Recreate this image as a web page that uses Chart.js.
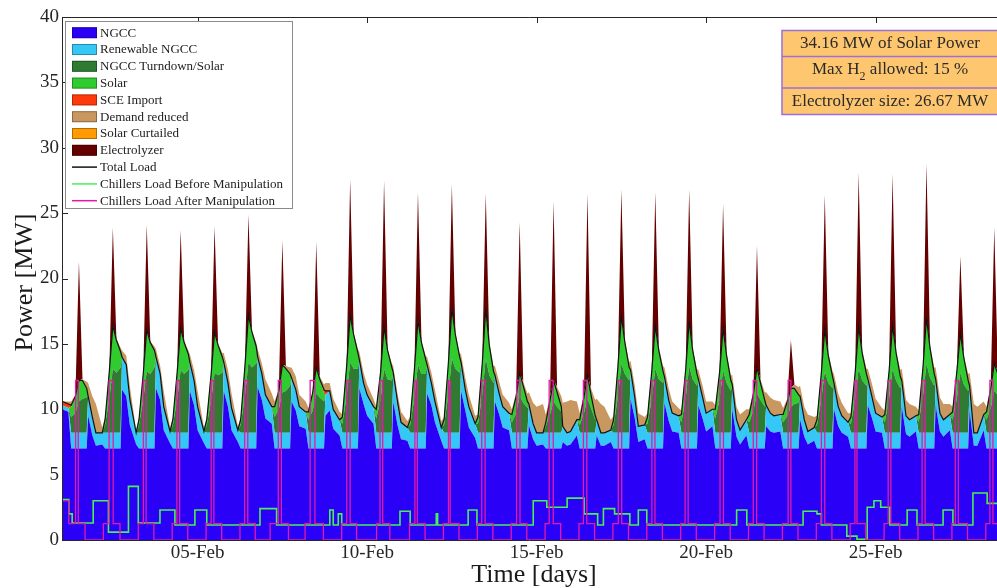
<!DOCTYPE html>
<html>
<head>
<meta charset="utf-8">
<style>
  html, body { margin: 0; padding: 0; background: #fff; overflow: hidden; }
  #wrap { width: 997px; height: 588px; }
</style>
<script src="https://cdn.jsdelivr.net/npm/chart.js@4.4.1/dist/chart.umd.min.js"></script>
</head>
<body>
<div id="wrap"><canvas id="powerChart" width="997" height="588"></canvas></div>
<script>
// ---- data ----
// days counted from 01-Feb 00:00, each day sampled at these hours
const sampleHours = [0, 4.5, 6.5, 9.5, 12, 14.5, 17.5, 18.5, 21.5];
const tickDays = [4, 9, 14, 19, 24];
const tickLabels = ["05-Feb", "10-Feb", "15-Feb", "20-Feb", "25-Feb"];

// MW per day at sampleHours
const ngcc = [
  [10.0, 9.8, 7, 7, 7, 7, 7, 9.5, 8.0],
  [7.2, 7.3, 7, 7, 7, 7, 7, 11.5, 11.0],
  [8.8, 7.3, 7, 7, 7, 7, 7, 11.6, 10.7],
  [8.4, 7.4, 7, 7, 7, 7, 7, 11.4, 10.3],
  [8.4, 7.4, 7, 7, 7, 7, 7, 11.4, 10.2],
  [8.4, 7.5, 7, 7, 7, 7, 7, 11.7, 10.7],
  [9.3, 8.9, 7, 7, 7, 7, 7, 10.6, 9.9],
  [8.7, 8.5, 7, 7, 7, 7, 7, 9.5, 9.9],
  [8.5, 8.0, 7, 7, 7, 7, 7, 11.6, 10.4],
  [9.5, 8.9, 7, 7, 7, 7, 7, 10.6, 8.8],
  [7.7, 7.6, 7, 7, 7, 7, 7, 11.2, 10.3],
  [9.0, 7.6, 7, 7, 7, 7, 7, 11.4, 9.9],
  [8.6, 7.8, 7, 7, 7, 7, 7, 10.6, 9.6],
  [8.6, 8.4, 7, 7, 7, 7, 7, 8.8, 7.7],
  [7.2, 7.3, 7, 7, 7, 7, 7, 7.5, 7.2],
  [7.3, 8.0, 7, 7, 7, 7, 7, 8.0, 7.2],
  [7.2, 7.5, 7, 7, 7, 7, 7, 10.8, 9.3],
  [7.5, 7.7, 7, 7, 7, 7, 7, 10.5, 9.1],
  [8.3, 8.2, 7, 7, 7, 7, 7, 10.3, 9.3],
  [8.3, 8.7, 7, 7, 7, 7, 7, 10.0, 7.9],
  [7.3, 8.0, 7, 7, 7, 7, 7, 8.7, 8.3],
  [8.2, 8.3, 7, 7, 7, 7, 7, 9.2, 7.9],
  [7.3, 7.6, 7, 7, 7, 7, 7, 10.0, 8.7],
  [8.2, 7.9, 7, 7, 7, 7, 7, 10.3, 9.3],
  [8.3, 8.2, 7, 7, 7, 7, 7, 10.2, 8.1],
  [7.9, 8.3, 7, 7, 7, 7, 7, 10.3, 8.3],
  [7.9, 8.4, 7, 7, 7, 7, 7, 9.9, 7.2],
  [7.2, 8.4, 7, 7, 7, 7, 7, 9.8, 8.1]
];
const renewableNgcc = [
  [0.3, 0.3, 1.2, 1.2, 1.2, 1.2, 1.2, 1.5, 1.4],
  [1.0, 0.9, 1.2, 1.2, 1.2, 1.2, 1.2, 2.5, 2.4],
  [2.0, 0.9, 1.2, 1.2, 1.2, 1.2, 1.2, 2.4, 2.0],
  [1.8, 0.9, 1.2, 1.2, 1.2, 1.2, 1.2, 2.2, 1.9],
  [1.8, 0.9, 1.2, 1.2, 1.2, 1.2, 1.2, 2.2, 1.8],
  [1.7, 0.9, 1.2, 1.2, 1.2, 1.2, 1.2, 2.3, 2.0],
  [1.8, 1.3, 1.2, 1.2, 1.2, 1.2, 1.2, 1.8, 1.6],
  [1.5, 1.3, 1.2, 1.2, 1.2, 1.2, 1.2, 1.6, 1.5],
  [1.5, 1.2, 1.2, 1.2, 1.2, 1.2, 1.2, 2.2, 1.6],
  [1.6, 1.3, 1.2, 1.2, 1.2, 1.2, 1.2, 2.0, 1.4],
  [1.3, 1.0, 1.2, 1.2, 1.2, 1.2, 1.2, 2.2, 1.7],
  [1.6, 1.0, 1.2, 1.2, 1.2, 1.2, 1.2, 2.2, 1.6],
  [1.6, 1.1, 1.2, 1.2, 1.2, 1.2, 1.2, 2.0, 1.6],
  [1.6, 1.3, 1.2, 1.2, 1.2, 1.2, 1.2, 1.6, 1.2],
  [1.0, 0.9, 1.2, 1.2, 1.2, 1.2, 1.2, 1.2, 1.0],
  [1.0, 1.2, 1.2, 1.2, 1.2, 1.2, 1.2, 1.2, 1.0],
  [1.0, 0.9, 1.2, 1.2, 1.2, 1.2, 1.2, 2.2, 1.6],
  [1.2, 1.1, 1.2, 1.2, 1.2, 1.2, 1.2, 2.0, 1.6],
  [1.4, 1.3, 1.2, 1.2, 1.2, 1.2, 1.2, 2.0, 1.6],
  [1.4, 1.3, 1.2, 1.2, 1.2, 1.2, 1.2, 1.9, 1.3],
  [1.1, 1.2, 1.2, 1.2, 1.2, 1.2, 1.2, 1.6, 1.4],
  [1.3, 1.3, 1.2, 1.2, 1.2, 1.2, 1.2, 1.8, 1.3],
  [1.0, 1.0, 1.2, 1.2, 1.2, 1.2, 1.2, 2.0, 1.5],
  [1.3, 1.1, 1.2, 1.2, 1.2, 1.2, 1.2, 2.0, 1.6],
  [1.4, 1.2, 1.2, 1.2, 1.2, 1.2, 1.2, 2.0, 1.4],
  [1.3, 1.2, 1.2, 1.2, 1.2, 1.2, 1.2, 2.0, 1.4],
  [1.3, 1.2, 1.2, 1.2, 1.2, 1.2, 1.2, 1.9, 1.0],
  [1.0, 1.2, 1.2, 1.2, 1.2, 1.2, 1.2, 1.8, 1.4]
];
// solar hours only: 06:30, 09:30, 12h, 14:30, 17:30
const turndownSolar = [
  [1.2, 1.5, 2.4, 2.6, 2.7], [0.6, 2.6, 4.9, 4.6, 5.0], [0.6, 2.5, 4.7, 4.5, 5.0],
  [0.6, 2.5, 4.8, 4.5, 4.8], [0.6, 2.4, 4.6, 4.4, 4.6], [0.6, 2.8, 5.4, 5.0, 5.3],
  [1.2, 1.8, 3.1, 3.2, 3.6], [1.0, 1.7, 3.0, 2.7, 2.4], [0.7, 2.8, 5.4, 4.9, 4.9],
  [1.1, 2.5, 4.9, 4.1, 4.0], [0.6, 2.7, 5.2, 4.5, 4.5], [0.6, 2.9, 5.7, 4.9, 4.6],
  [0.7, 2.9, 5.7, 4.4, 3.8], [0.8, 1.5, 2.8, 2.3, 1.9], [0.5, 1.4, 2.4, 2.0, 1.6],
  [0.6, 1.5, 2.6, 1.9, 1.0], [0.6, 2.7, 5.3, 4.5, 4.0], [0.7, 2.6, 4.9, 4.1, 3.8],
  [0.8, 2.6, 5.1, 4.1, 3.6], [1.1, 2.5, 4.8, 3.8, 3.2], [0.8, 1.7, 3.0, 2.5, 2.0],
  [0.8, 1.3, 2.0, 2.2, 2.3], [0.6, 2.5, 4.7, 3.8, 3.4], [0.7, 2.5, 4.9, 4.0, 3.6],
  [0.8, 2.6, 4.9, 4.0, 3.4], [0.8, 2.8, 5.3, 4.2, 3.6], [1.0, 2.6, 4.6, 3.7, 3.2],
  [1.0, 1.9, 3.2, 2.9, 3.0]
];
const solar = [
  [0.8, 1.3, 1.6, 1.4, 0.7], [0.4, 2.1, 3.3, 2.5, 1.2], [0.4, 2.0, 3.2, 2.4, 1.3],
  [0.4, 2.1, 3.2, 2.4, 1.2], [0.4, 2.0, 3.1, 2.3, 1.2], [0.4, 2.3, 3.6, 2.7, 1.3],
  [0.8, 1.4, 2.1, 1.7, 0.9], [0.6, 1.4, 2.0, 1.4, 0.6], [0.5, 2.3, 3.6, 2.6, 1.2],
  [0.7, 2.1, 3.2, 2.2, 1.0], [0.4, 2.2, 3.4, 2.4, 1.1], [0.4, 2.4, 3.8, 2.6, 1.2],
  [0.5, 2.4, 3.8, 2.3, 0.9], [0.6, 1.3, 1.8, 1.3, 0.5], [0.3, 1.1, 1.6, 1.1, 0.4],
  [0.4, 1.2, 1.8, 1.0, 0.3], [0.4, 2.3, 3.6, 2.4, 1.0], [0.5, 2.1, 3.3, 2.2, 0.9],
  [0.6, 2.2, 3.4, 2.2, 0.9], [0.7, 2.1, 3.2, 2.1, 0.8], [0.6, 1.3, 2.0, 1.3, 0.5],
  [0.6, 1.1, 1.4, 1.2, 0.6], [0.4, 2.0, 3.2, 2.1, 0.9], [0.5, 2.1, 3.2, 2.1, 0.9],
  [0.6, 2.1, 3.3, 2.1, 0.9], [0.6, 2.2, 3.5, 2.3, 0.9], [0.6, 2.1, 3.0, 2.0, 0.8],
  [0.6, 1.5, 2.1, 1.6, 0.8]
];
const sceImport = [
  [0.3, 0.3, 0.1, 0, 0, 0, 0, 0, 0], [0, 0, 0, 0, 0, 0, 0, 0, 0], [0, 0, 0, 0, 0, 0, 0, 0, 0],
  [0, 0, 0, 0, 0, 0, 0, 0, 0], [0, 0, 0, 0, 0, 0, 0, 0, 0], [0, 0, 0, 0, 0, 0, 0, 0, 0],
  [0, 0, 0, 0, 0, 0, 0, 0, 0], [0, 0, 0, 0, 0, 0, 0.3, 0.3, 0], [0, 0, 0, 0, 0, 0, 0, 0, 0],
  [0, 0, 0, 0, 0, 0, 0, 0.2, 0.4], [0, 0, 0, 0, 0, 0, 0, 0, 0], [0, 0, 0, 0, 0, 0, 0, 0, 0],
  [0, 0, 0, 0, 0, 0, 0, 0, 0], [0, 0, 0, 0, 0, 0, 0, 0, 0], [0, 0, 0, 0, 0, 0, 0, 0, 0],
  [0, 0, 0, 0, 0, 0, 0, 0, 0], [0, 0, 0, 0, 0, 0, 0, 0, 0], [0, 0, 0, 0, 0, 0, 0, 0, 0],
  [0, 0, 0, 0, 0, 0, 0, 0, 0], [0, 0, 0, 0, 0, 0, 0, 0, 0], [0, 0, 0, 0, 0, 0, 0, 0, 0],
  [0, 0, 0, 0, 0, 0, 0, 0, 0], [0, 0, 0, 0, 0, 0, 0, 0, 0], [0, 0, 0, 0, 0, 0, 0, 0, 0],
  [0, 0, 0, 0, 0, 0, 0, 0, 0], [0, 0, 0, 0, 0, 0, 0, 0, 0], [0, 0, 0, 0, 0, 0, 0, 0, 0],
  [0, 0, 0, 0, 0, 0, 0, 0, 0]
];
const demandReduced = [
  [0, 0.2, 0.3, 0.1, 0, 0.1, 0.5, 1.0, 1.6],
  [2.2, 0.4, 0.2, 0.1, 0, 0.1, 0.3, 0.5, 0.7],
  [1.0, 0.2, 0.2, 0.1, 0, 0.1, 0.3, 0.6, 0.6],
  [1.2, 0.3, 0.2, 0.1, 0, 0.1, 0.3, 0.6, 0.8],
  [1.2, 0.3, 0.2, 0.1, 0, 0.1, 0.3, 0.7, 1.0],
  [1.1, 0.3, 0.2, 0.1, 0, 0.1, 0.3, 0.6, 0.8],
  [1.2, 1.0, 0.4, 0.1, 0, 0.2, 0.5, 0.8, 1.0],
  [0.9, 0.8, 0.3, 0.1, 0, 0.2, 0.4, 0.6, 0.6],
  [0.8, 0.6, 0.2, 0.1, 0, 0.1, 0.3, 0.6, 0.8],
  [0.8, 0.6, 0.2, 0.1, 0, 0.1, 0.3, 0.5, 0.6],
  [0.8, 0.5, 0.2, 0.1, 0, 0.1, 0.3, 0.6, 0.8],
  [0.9, 0.5, 0.2, 0.1, 0, 0.1, 0.3, 0.6, 0.9],
  [0.9, 0.6, 0.2, 0.1, 0, 0.2, 0.4, 0.7, 0.9],
  [0.9, 0.8, 0.4, 0.2, 0, 0.3, 0.6, 0.9, 1.6],
  [2.0, 2.2, 0.6, 0.3, 0, 0.4, 0.8, 1.8, 2.4],
  [2.4, 1.4, 0.5, 0.3, 0, 0.5, 1.2, 1.6, 2.2],
  [2.0, 0.8, 0.3, 0.1, 0, 0.2, 0.4, 0.7, 0.9],
  [1.0, 0.6, 0.3, 0.1, 0, 0.2, 0.4, 0.7, 0.9],
  [0.9, 0.6, 0.3, 0.1, 0, 0.2, 0.4, 0.7, 0.9],
  [0.9, 0.6, 0.3, 0.1, 0, 0.2, 0.4, 0.7, 1.0],
  [1.2, 0.8, 0.4, 0.2, 0, 0.3, 0.6, 1.0, 1.2],
  [1.2, 1.0, 0.5, 0.2, 0, 0.3, 0.6, 0.8, 1.0],
  [1.3, 0.8, 0.3, 0.1, 0, 0.2, 0.4, 0.7, 1.0],
  [1.0, 0.7, 0.3, 0.1, 0, 0.2, 0.4, 0.8, 1.0],
  [1.1, 0.7, 0.3, 0.1, 0, 0.2, 0.5, 0.9, 1.2],
  [1.2, 0.7, 0.3, 0.1, 0, 0.2, 0.5, 0.9, 1.2],
  [1.2, 0.8, 0.4, 0.2, 0, 0.2, 0.5, 1.0, 2.2],
  [2.0, 1.0, 0.4, 0.2, 0, 0.2, 0.5, 1.0, 1.4]
];
// noon values only
const solarCurtailed = [0, 0, 0, 0, 0, 0, 0, 0, 0, 0, 0, 0, 0, 0, 0, 0, 0, 0, 0, 0, 0, 0, 0, 0, 0, 0, 0, 0];
const electrolyzer = [9.1, 7.5, 8.0, 7.5, 8.1, 7.7, 9.5, 9.6, 10.4, 11.2, 9.8, 9.5, 8.8, 11.5,
  13.7, 13.9, 9.7, 10.2, 10.1, 9.5, 9.3, 3.7, 10.3, 11.8, 11.6, 11.8, 5.9, 10.4];

// chiller loads, [day, MW] step points
const chillersBefore = [
  [0, 3.1], [0.2, 2.0], [0.3, 1.3], [0.92, 3.0], [1.37, 0.6], [1.96, 4.1], [2.25, 1.3],
  [2.89, 2.3], [3.33, 1.15], [3.92, 2.3], [4.27, 1.15], [5.84, 2.4], [6.33, 1.15],
  [7.9, 2.3], [8.0, 1.15], [8.15, 2.0], [8.25, 1.15], [9.97, 2.2], [10.27, 1.15],
  [11.04, 2.0], [11.08, 1.15], [11.98, 2.3], [12.24, 1.15], [13.9, 3.0], [14.3, 2.5],
  [14.9, 3.2], [15.4, 2.0], [15.8, 1.15], [15.97, 2.4], [16.3, 2.0], [16.75, 1.15],
  [17.0, 2.3], [17.25, 1.15], [19.9, 2.3], [20.2, 1.15], [21.86, 2.2], [22.27, 2.0],
  [22.4, 1.15], [23.15, 0.3], [23.45, 0.05], [23.75, 2.5], [23.95, 3.0], [24.15, 2.5],
  [24.42, 1.15], [24.93, 2.3], [25.22, 1.15], [25.99, 2.3], [26.28, 1.15], [26.87, 3.6],
  [27.29, 2.8], [27.6, 2.8]
];
const chillersAfter = [
  [0, 3.0], [0.2, 1.25], [0.40, 12.2], [0.48, 1.25], [0.68, 0],
  [1.22, 1.25], [1.39, 12.2], [1.51, 1.25], [1.71, 0],
  [2.25, 1.25], [2.40, 12.2], [2.48, 1.25], [2.71, 0],
  [3.25, 1.25], [3.39, 12.2], [3.47, 1.25], [3.71, 0],
  [4.25, 1.25], [4.40, 12.2], [4.48, 1.25], [4.71, 0],
  [5.25, 1.25], [5.39, 12.2], [5.48, 1.25], [5.70, 0],
  [6.14, 1.25], [6.38, 12.2], [6.47, 1.25], [6.68, 0],
  [7.17, 1.25], [7.32, 12.2], [7.46, 1.25], [7.71, 0],
  [8.25, 1.25], [8.40, 12.2], [8.50, 1.25], [8.69, 0],
  [9.28, 1.25], [9.38, 12.2], [9.46, 1.25], [9.67, 0],
  [10.25, 1.25], [10.41, 12.2], [10.48, 1.25], [10.71, 0],
  [11.25, 1.25], [11.40, 12.2], [11.45, 1.25], [11.71, 0],
  [12.25, 1.25], [12.38, 12.2], [12.48, 1.25], [12.71, 0],
  [13.25, 1.25], [13.41, 12.2], [13.51, 1.25], [13.71, 0],
  [14.25, 1.25], [14.37, 12.2], [14.49, 1.25], [14.71, 0],
  [15.25, 1.25], [15.38, 12.2], [15.48, 1.25], [15.71, 0],
  [16.25, 1.25], [16.41, 12.2], [16.51, 1.25], [16.71, 0],
  [17.25, 1.25], [17.40, 12.2], [17.49, 1.25], [17.71, 0],
  [18.25, 1.25], [18.38, 12.2], [18.47, 1.25], [18.71, 0],
  [19.25, 1.25], [19.41, 12.2], [19.51, 1.25], [19.71, 0],
  [20.25, 1.25], [20.39, 12.2], [20.49, 1.25], [20.71, 0],
  [21.25, 1.25], [21.42, 12.2], [21.50, 1.25], [21.71, 0],
  [22.25, 1.25], [22.40, 12.2], [22.50, 1.25], [22.71, 0],
  [23.25, 1.25], [23.39, 12.2], [23.45, 1.25], [23.71, 0],
  [24.25, 1.25], [24.37, 12.2], [24.45, 1.25], [24.71, 0],
  [25.25, 1.25], [25.37, 12.2], [25.46, 1.25], [25.71, 0],
  [26.25, 1.25], [26.35, 12.2], [26.44, 1.25], [26.71, 0],
  [27.25, 1.25], [27.37, 12.2], [27.46, 1.25], [27.71, 0]
];

const infoLines = ["34.16 MW of Solar Power", "Max H|2| allowed: 15 %", "Electrolyzer size: 26.67 MW"];

// ---- build series on the common time grid ----
const xs = [];
ngcc.forEach((row, d) => sampleHours.forEach(h => xs.push(d + h / 24)));

const SOLAR_SLOTS = [2, 3, 4, 5, 6]; // 06:30 .. 17:30
const NOON_SLOT = 4;
function flatSolar(rows){
  const out = [];
  rows.forEach(r => sampleHours.forEach((h, k) => {
    const j = SOLAR_SLOTS.indexOf(k);
    out.push(j >= 0 ? r[j] : 0);
  }));
  return out;
}
function flatNoon(vals){
  const out = [];
  vals.forEach(v => sampleHours.forEach((h, k) => out.push(k === NOON_SLOT ? v : 0)));
  return out;
}
function pts(vals){ return vals.map((v, i) => ({ x: xs[i], y: v })); }

const sNgcc = ngcc.flat();
const sRen = renewableNgcc.flat();
const sTurn = flatSolar(turndownSolar);
const sSolar = flatSolar(solar);
const sSce = sceImport.flat();
const sDemand = demandReduced.flat();
const sCurt = flatNoon(solarCurtailed);
const sElec = flatNoon(electrolyzer);
const sTotal = sNgcc.map((v, i) => v + sRen[i] + sTurn[i] + sSolar[i] + sSce[i]);

const areas = [
  ["NGCC", sNgcc, "#2B00F7"],
  ["Renewable NGCC", sRen, "#35C8F7"],
  ["NGCC Turndown/Solar", sTurn, "#2E7B31"],
  ["Solar", sSolar, "#2FCB2F"],
  ["SCE Import", sSce, "#FF3A0A"],
  ["Demand reduced", sDemand, "#C99760"],
  ["Solar Curtailed", sCurt, "#FF9A00"],
  ["Electrolyzer", sElec, "#650000"]
];

const datasets = areas.map((a, i) => ({
  label: a[0],
  data: pts(a[1]),
  backgroundColor: a[2],
  borderColor: a[2],
  borderWidth: 0,
  pointRadius: 0,
  fill: i === 0 ? "origin" : "-1",
  order: 3
}));
datasets.push({
  label: "Total Load", data: pts(sTotal), stack: "total",
  borderColor: "#111", borderWidth: 1.2, pointRadius: 0, fill: false, order: 2
});
datasets.push({
  label: "Chillers Load Before Manipulation", stack: "before", stepped: true,
  data: chillersBefore.map(p => ({ x: p[0], y: p[1] })),
  borderColor: "#48F058", borderWidth: 1.6, pointRadius: 0, fill: false, order: 1
});
datasets.push({
  label: "Chillers Load After Manipulation", stack: "after", stepped: true,
  data: chillersAfter.map(p => ({ x: p[0], y: p[1] })),
  borderColor: "#E21AA8", borderWidth: 1.3, pointRadius: 0, fill: false, order: 0
});

// ---- extra drawing: inward ticks, frame, legend, info box, axis titles ----
const AXIS = "#262626";
const SERIF = "'Liberation Serif', 'Times New Roman', serif";

const decor = {
  id: "decor",
  beforeDatasetsDraw(chart){
    const { ctx, chartArea: a, scales: { x, y } } = chart;
    ctx.save();
    ctx.strokeStyle = AXIS; ctx.lineWidth = 1;
    for (let v = 0; v <= 40; v += 5) {
      const py = Math.round(y.getPixelForValue(v)) + 0.5;
      ctx.beginPath(); ctx.moveTo(a.left, py); ctx.lineTo(a.left + 6, py); ctx.stroke();
    }
    tickDays.forEach(d => {
      const px = Math.round(x.getPixelForValue(d)) + 0.5;
      ctx.beginPath(); ctx.moveTo(px, a.top); ctx.lineTo(px, a.top + 6); ctx.stroke();
      ctx.beginPath(); ctx.moveTo(px, a.bottom); ctx.lineTo(px, a.bottom - 6); ctx.stroke();
    });
    ctx.restore();
  },
  afterDatasetsDraw(chart){
    const { ctx, chartArea: a } = chart;
    ctx.save();
    ctx.strokeStyle = AXIS; ctx.lineWidth = 1;
    ctx.beginPath();
    ctx.moveTo(a.left + 0.5, a.bottom); ctx.lineTo(a.left + 0.5, a.top + 0.5); ctx.lineTo(a.right, a.top + 0.5);
    ctx.moveTo(a.left, a.bottom + 0.5); ctx.lineTo(a.right, a.bottom + 0.5);
    ctx.stroke();
    ctx.restore();
  },
  afterDraw(chart){
    const { ctx, chartArea: a } = chart;
    ctx.save();

    // axis titles
    ctx.fillStyle = "#1a1a1a";
    ctx.font = "26px " + SERIF;
    ctx.textAlign = "center"; ctx.textBaseline = "middle";
    ctx.fillText("Time [days]", 534, 575);
    ctx.save();
    ctx.translate(25, (a.top + a.bottom) / 2 + 4);
    ctx.rotate(-Math.PI / 2);
    ctx.fillText("Power [MW]", 0, 0);
    ctx.restore();

    // legend box
    const lx = 65, ly = 21, lw = 227, lh = 187;
    ctx.fillStyle = "#fff"; ctx.fillRect(lx, ly, lw, lh);
    ctx.strokeStyle = "#8a8a8a"; ctx.lineWidth = 1;
    ctx.strokeRect(lx + 0.5, ly + 0.5, lw, lh);
    ctx.font = "13px " + SERIF;
    ctx.textAlign = "left"; ctx.textBaseline = "middle";
    chart.data.datasets.forEach((ds, i) => {
      const cy = 32.7 + i * 16.8;
      if (ds.fill === false) {
        ctx.strokeStyle = ds.borderColor; ctx.lineWidth = 1.5;
        ctx.beginPath(); ctx.moveTo(72, cy); ctx.lineTo(97, cy); ctx.stroke();
      } else {
        ctx.fillStyle = ds.backgroundColor; ctx.fillRect(72, cy - 5.5, 25, 11);
        ctx.strokeStyle = "rgba(0,0,0,0.3)"; ctx.lineWidth = 1;
        ctx.strokeRect(72.5, cy - 5, 24, 10);
      }
      ctx.fillStyle = "#222";
      ctx.fillText(ds.label, 100, cy + 0.5);
    });

    // info box (top right)
    const bx = 782, bw = 222, rows = [30.5, 56.5, 88, 114.5];
    ctx.fillStyle = "#FEC76F";
    ctx.fillRect(bx, rows[0], bw, rows[3] - rows[0]);
    ctx.strokeStyle = "#9B6FD8"; ctx.lineWidth = 1.5;
    ctx.strokeRect(bx, rows[0], bw, rows[3] - rows[0]);
    ctx.beginPath();
    ctx.moveTo(bx, rows[1]); ctx.lineTo(bx + bw, rows[1]);
    ctx.moveTo(bx, rows[2]); ctx.lineTo(bx + bw, rows[2]);
    ctx.stroke();
    const cx = 890;
    const centers = [44, 70, 101.5];
    ctx.fillStyle = "#2a2a2a";
    infoLines.forEach((line, i) => {
      const parts = line.split("|");
      const big = "17px " + SERIF, small = "12px " + SERIF;
      let w = 0;
      parts.forEach((p, k) => { ctx.font = k % 2 ? small : big; w += ctx.measureText(p).width; });
      let px = cx - w / 2;
      ctx.textAlign = "left"; ctx.textBaseline = "middle";
      parts.forEach((p, k) => {
        ctx.font = k % 2 ? small : big;
        ctx.fillText(p, px, centers[i] + (k % 2 ? 7 : 0));
        px += ctx.measureText(p).width;
      });
    });

    ctx.restore();
  }
};

new Chart(document.getElementById("powerChart"), {
  type: "line",
  data: { datasets },
  options: {
    responsive: false,
    animation: false,
    events: [],
    layout: { padding: { left: 0, right: 0, top: 17, bottom: 0 } },
    elements: { line: { tension: 0 }, point: { radius: 0 } },
    plugins: { legend: { display: false }, tooltip: { enabled: false } },
    scales: {
      x: {
        type: "linear", min: 0, max: 27.58,
        grid: { display: false, drawTicks: false },
        border: { display: false },
        afterBuildTicks: s => { s.ticks = tickDays.map(v => ({ value: v })); },
        ticks: {
          autoSkip: false, maxRotation: 0, padding: 2, color: AXIS,
          font: { family: SERIF, size: 19 },
          callback: (v, i) => tickLabels[i]
        },
        afterFit: s => { s.height = 48; }
      },
      y: {
        stacked: true, min: 0, max: 40,
        grid: { display: false, drawTicks: false },
        border: { display: false },
        ticks: { stepSize: 5, padding: 3, color: AXIS, font: { family: SERIF, size: 19 } },
        afterFit: s => { s.width = 62; }
      }
    }
  },
  plugins: [decor]
});
</script>
</body>
</html>
